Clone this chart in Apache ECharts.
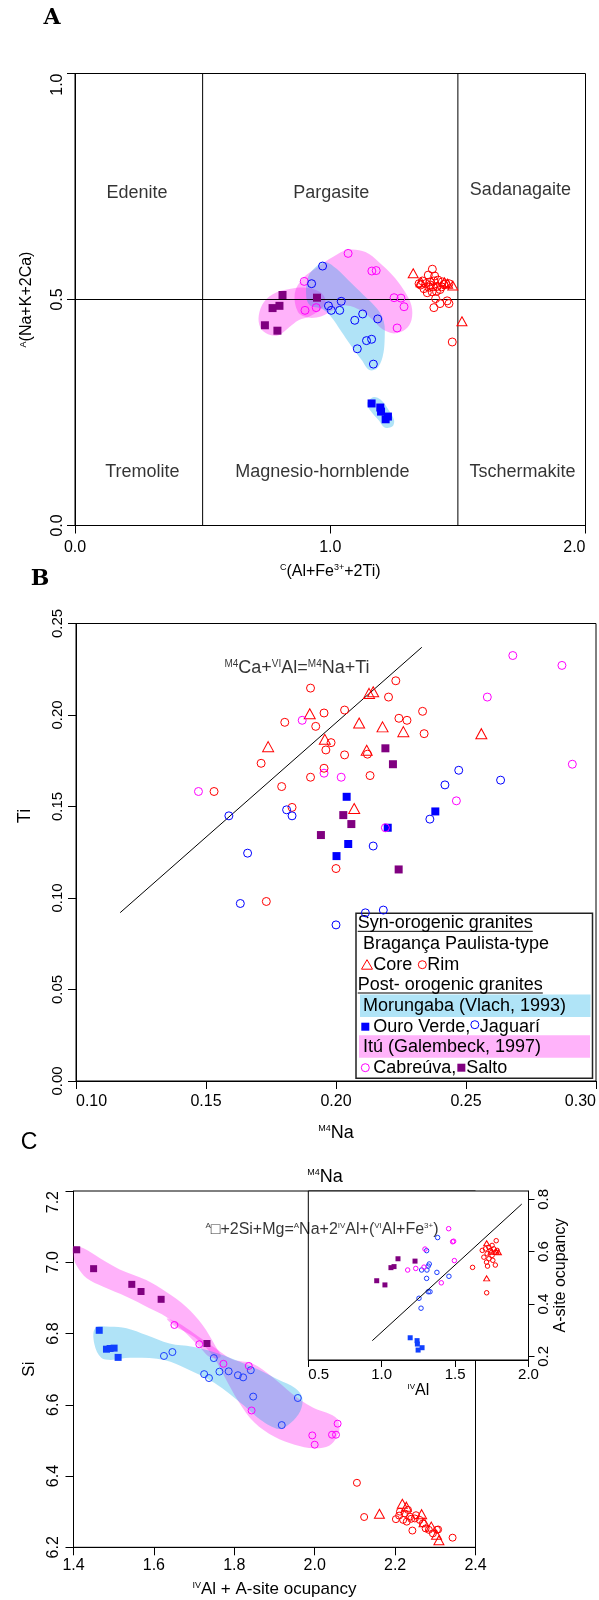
<!DOCTYPE html>
<html><head><meta charset="utf-8">
<script src="https://cdn.jsdelivr.net/npm/echarts@6.0.0/dist/echarts.min.js"></script>
<style>html,body{margin:0;padding:0;background:#fff}#c{width:599px;height:1600px}</style>
</head><body><div id="c"></div>
<script>
// ---------------- DATA ----------------
// Panel A : C(Al+Fe3+ +2Ti) vs A(Na+K+2Ca)
const A_core = [[1.325,0.558],[1.480,0.531],[1.516,0.452],[1.356,0.538],[1.447,0.538],[1.460,0.535]];
const A_rim = [[1.400,0.567],[1.384,0.554],[1.409,0.552],[1.478,0.406],[1.406,0.482],[1.413,0.502],[1.430,0.491],[1.458,0.497],[1.465,0.491],[1.348,0.535],[1.361,0.541],[1.374,0.535],[1.391,0.539],[1.406,0.541],[1.422,0.543],[1.439,0.539],[1.452,0.535],[1.367,0.524],[1.386,0.527],[1.403,0.528],[1.419,0.529],[1.436,0.528],[1.380,0.515],[1.399,0.517],[1.416,0.518],[1.430,0.522],[1.393,0.532],[1.445,0.533],[1.465,0.535],[1.354,0.532]];
const A_jag = [[0.970,0.574],[0.927,0.535],[0.993,0.486],[1.004,0.476],[1.037,0.476],[1.043,0.496],[1.127,0.468],[1.096,0.454],[1.186,0.457],[1.142,0.409],[1.162,0.412],[1.106,0.391],[1.169,0.357]];
const A_ouro = [[1.162,0.270],[1.196,0.261],[1.199,0.252],[1.217,0.235],[1.226,0.241]];
const A_cab = [[1.070,0.602],[1.163,0.563],[1.180,0.564],[0.898,0.540],[0.901,0.476],[0.945,0.482],[1.250,0.504],[1.277,0.503],[1.289,0.484],[1.262,0.437]];
const A_salto = [[0.813,0.510],[0.948,0.504],[0.774,0.481],[0.801,0.486],[0.744,0.443],[0.793,0.431]];
const A_blobCab = [[0.861,0.513],[0.891,0.546],[0.951,0.572],[1.010,0.594],[1.070,0.610],[1.138,0.605],[1.190,0.583],[1.243,0.554],[1.288,0.521],[1.318,0.487],[1.318,0.454],[1.295,0.434],[1.250,0.425],[1.205,0.434],[1.168,0.454],[1.123,0.475],[1.063,0.487],[1.010,0.476],[0.966,0.463],[0.913,0.460],[0.873,0.473]];
const A_blobSalto = [[0.720,0.465],[0.741,0.495],[0.786,0.515],[0.846,0.524],[0.906,0.526],[0.958,0.517],[0.981,0.499],[0.966,0.480],[0.921,0.463],[0.876,0.454],[0.838,0.438],[0.798,0.421],[0.756,0.423],[0.726,0.438]];
const A_blobJag = [[0.906,0.506],[0.913,0.550],[0.951,0.576],[0.981,0.583],[1.025,0.568],[1.070,0.543],[1.130,0.510],[1.183,0.480],[1.210,0.451],[1.213,0.410],[1.205,0.373],[1.183,0.348],[1.153,0.344],[1.123,0.366],[1.085,0.395],[1.040,0.432],[1.003,0.462],[0.966,0.480],[0.921,0.487]];
const A_blobOuro = [[1.145,0.270],[1.168,0.284],[1.198,0.278],[1.228,0.256],[1.250,0.233],[1.243,0.219],[1.213,0.217],[1.190,0.233],[1.160,0.252]];
const A_bounds = [[[0.5,0],[0.5,1]],[[1.5,0],[1.5,1]],[[0,0.5],[2,0.5]]];
const A_regionNames = ['Edenite','Pargasite','Sadanagaite','Tremolite','Magnesio-hornblende','Tschermakite'];
const A_regionPos = [[0.243,0.736],[1.004,0.736],[1.745,0.742],[0.264,0.119],[0.969,0.119],[1.753,0.119]];

// Panel B : M4Na vs Ti
const B_core = [[0.2127,0.2118],[0.2143,0.2127],[0.1899,0.2007],[0.2089,0.1956],[0.2179,0.1935],[0.2259,0.1909],[0.2559,0.1898],[0.1739,0.1827],[0.1957,0.1867],[0.2118,0.1807],[0.2070,0.1489]];
const B_rim = [[0.1902,0.2147],[0.2230,0.2187],[0.2202,0.2098],[0.1954,0.2011],[0.2033,0.2027],[0.1803,0.1960],[0.1922,0.1938],[0.2242,0.1982],[0.2273,0.1971],[0.2333,0.2020],[0.2339,0.1898],[0.1981,0.1849],[0.1961,0.1809],[0.2121,0.1786],[0.2033,0.1782],[0.1712,0.1736],[0.1954,0.1709],[0.1902,0.1660],[0.2131,0.1669],[0.1791,0.1609],[0.1531,0.1582],[0.1831,0.1495],[0.2000,0.1161],[0.1732,0.0981]];
const B_jag = [[0.2472,0.1698],[0.2419,0.1618],[0.2633,0.1644],[0.1588,0.1449],[0.1810,0.1482],[0.1831,0.1449],[0.2361,0.1431],[0.1660,0.1245],[0.2143,0.1284],[0.1632,0.0970],[0.2000,0.0853],[0.2113,0.0919],[0.2182,0.0934]];
const B_ouro = [[0.2041,0.1553],[0.2382,0.1473],[0.2199,0.1384],[0.2047,0.1295],[0.2002,0.1229]];
const B_cab = [[0.2680,0.2325],[0.2869,0.2271],[0.2582,0.2098],[0.1870,0.1971],[0.2909,0.1731],[0.1954,0.1682],[0.2020,0.1660],[0.1471,0.1582],[0.2463,0.1531],[0.2190,0.1384]];
const B_salto = [[0.2190,0.1818],[0.2219,0.1731],[0.2028,0.1453],[0.2059,0.1404],[0.1942,0.1344],[0.2241,0.1156]];
const B_line = [[0.117,0.092],[0.233,0.237]];
const B_eqPos = [0.185,0.2255];

// Panel C : IVAl + A-site vs Si
const C_core = [[2.161,6.294],[2.218,6.322],[2.266,6.293],[2.290,6.258],[2.303,6.235],[2.309,6.220],[2.228,6.314],[2.272,6.270]];
const C_rim = [[2.105,6.381],[2.123,6.285],[2.343,6.227],[2.202,6.279],[2.243,6.247],[2.304,6.249],[2.212,6.300],[2.224,6.295],[2.232,6.305],[2.220,6.277],[2.237,6.286],[2.249,6.281],[2.261,6.277],[2.269,6.267],[2.276,6.253],[2.284,6.249],[2.294,6.239],[2.210,6.289],[2.229,6.272],[2.252,6.290],[2.240,6.280],[2.307,6.250]];
const C_jag = [[1.625,6.737],[1.646,6.748],[1.749,6.731],[1.725,6.686],[1.737,6.675],[1.763,6.693],[1.786,6.694],[1.809,6.683],[1.822,6.677],[1.841,6.697],[1.847,6.623],[1.958,6.619],[1.918,6.543]];
const C_ouro = [[1.464,6.809],[1.482,6.756],[1.491,6.758],[1.501,6.759],[1.511,6.733]];
const C_cab = [[1.651,6.824],[1.713,6.770],[1.773,6.715],[1.836,6.709],[1.843,6.584],[1.994,6.514],[2.000,6.488],[2.043,6.516],[2.053,6.516],[2.057,6.547]];
const C_salto = [[1.408,7.035],[1.450,6.982],[1.545,6.938],[1.568,6.918],[1.618,6.896],[1.732,6.772]];
const C_blobSalto = [[1.400,7.044],[1.425,7.039],[1.466,7.011],[1.515,6.980],[1.581,6.950],[1.630,6.917],[1.680,6.875],[1.721,6.824],[1.754,6.763],[1.766,6.735],[1.741,6.733],[1.713,6.763],[1.676,6.805],[1.630,6.847],[1.589,6.871],[1.532,6.903],[1.474,6.931],[1.433,6.955],[1.409,6.988],[1.399,7.020]];
const C_blobCab = [[1.632,6.842],[1.660,6.830],[1.700,6.800],[1.745,6.765],[1.795,6.728],[1.845,6.716],[1.894,6.679],[1.943,6.632],[1.993,6.594],[2.051,6.566],[2.062,6.540],[2.055,6.510],[2.036,6.485],[1.998,6.478],[1.950,6.488],[1.900,6.510],[1.850,6.550],[1.810,6.610],[1.775,6.680],[1.745,6.740],[1.700,6.790],[1.650,6.822]];
const C_blobJag = [[1.454,6.815],[1.491,6.819],[1.532,6.815],[1.581,6.796],[1.639,6.772],[1.696,6.763],[1.746,6.749],[1.803,6.726],[1.861,6.698],[1.910,6.670],[1.951,6.647],[1.969,6.620],[1.964,6.582],[1.940,6.549],[1.912,6.532],[1.864,6.559],[1.826,6.596],[1.750,6.662],[1.684,6.700],[1.626,6.726],[1.541,6.732],[1.493,6.726],[1.469,6.732],[1.452,6.770]];

// Inset : IVAl vs A-site ocupancy
const I_core = [[1.715,0.632],[1.715,0.498],[1.780,0.600],[1.795,0.598],[1.745,0.600]];
const I_rim = [[1.619,0.540],[1.715,0.443],[1.774,0.549],[1.780,0.642],[1.685,0.605],[1.707,0.611],[1.730,0.617],[1.752,0.624],[1.741,0.605],[1.763,0.611],[1.718,0.592],[1.752,0.586],[1.730,0.573],[1.714,0.560],[1.696,0.579],[1.775,0.598],[1.757,0.567],[1.721,0.545],[1.786,0.605]];
const I_jag = [[1.381,0.654],[1.306,0.604],[1.272,0.530],[1.308,0.530],[1.324,0.553],[1.317,0.545],[1.306,0.498],[1.376,0.521],[1.458,0.506],[1.317,0.447],[1.329,0.447],[1.254,0.422],[1.268,0.384]];
const I_ouro = [[1.194,0.271],[1.241,0.260],[1.243,0.247],[1.275,0.233],[1.248,0.224]];
const I_cab = [[1.177,0.530],[1.232,0.536],[1.288,0.541],[1.295,0.610],[1.456,0.688],[1.483,0.638],[1.490,0.640],[1.495,0.566],[1.406,0.481]];
const I_salto = [[0.966,0.489],[1.022,0.473],[1.063,0.539],[1.084,0.543],[1.111,0.573],[1.227,0.564]];
const I_line = [[0.936,0.260],[1.954,0.782]];
const I_eqPos = [0.593,0.685];
const I_yTicks = [0.2,0.4,0.6,0.8];

// ---------------- STYLE ----------------
const FF = '"Liberation Sans", Arial, sans-serif';
const RED = '#ff0000', BLUE = '#0000ff', MAG = '#ff00ff', PUR = '#800080';
const PINK_F = 'rgba(255,0,240,0.30)', BLUE_F = 'rgba(0,165,229,0.31)';

function rich(n, s) {
  return {
    n: {fontSize: n, fontFamily: FF, color: '#000', textBorderWidth: 0},
    s: {fontSize: s, fontFamily: FF, color: '#000', verticalAlign: 'top', lineHeight: n, textBorderWidth: 0}
  };
}
function sc(grid, data, symbol, size, color, filled) {
  return {type: 'scatter', xAxisIndex: grid, yAxisIndex: grid, data, symbol, symbolSize: size,
    itemStyle: filled ? {color, borderWidth: 0, opacity: 1} : {color: 'rgba(0,0,0,0)', borderColor: color, borderWidth: 1, opacity: 1},
    silent: true, z: 5, animation: false, clip: false};
}
function blob(grid, pts, color, z) {
  return {type: 'custom', xAxisIndex: grid, yAxisIndex: grid, data: pts, z, silent: true, animation: false,
    renderItem(params, api) {
      if (params.dataIndex !== 0) return null;
      return {type: 'polygon', shape: {points: pts.map(p => api.coord(p)), smooth: 0.35}, style: {fill: color}};
    }};
}
function seg(grid, pts, z) {
  return {type: 'line', xAxisIndex: grid, yAxisIndex: grid, data: pts, symbol: 'none', silent: true,
    lineStyle: {color: '#000', width: 1}, z: z || 3, animation: false};
}
const axLine = {show: true, lineStyle: {color: '#000', width: 1}};
const tick = (len) => ({show: true, inside: false, length: len, lineStyle: {color: '#000', width: 1}});
const lab = (fs, margin, extra) => Object.assign({color: '#000', fontFamily: FF, fontSize: fs, margin}, extra || {});

const grids = [
  {left: 75, top: 73.5, width: 510.5, height: 452},
  {left: 76, top: 623.5, width: 520, height: 457.5},
  {left: 73.5, top: 1191, width: 402, height: 356.3},
  {left: 308.3, top: 1191, width: 220.2, height: 169}
].map((g, i) => Object.assign(g, {show: true, borderColor: '#000', borderWidth: 1, backgroundColor: i === 3 ? '#fff' : 'transparent', containLabel: false, outerBoundsMode: 'none', z: i === 3 ? 1 : 0}));

const xAxis = [
  {gridIndex: 0, type: 'value', min: 0, max: 2, interval: 1, axisLine: axLine, axisTick: tick(8), splitLine: {show: false},
   axisLabel: lab(16, 14, {formatter: v => v.toFixed(1), alignMaxLabel: 'right'}),
   name: '{s|C}{n|(Al+Fe}{s|3+}{n|+2Ti)}', nameLocation: 'middle', nameGap: 38, nameTextStyle: {rich: rich(16, 9)}},
  {gridIndex: 1, type: 'value', min: 0.1, max: 0.3, interval: 0.05, axisLine: axLine, axisTick: tick(8), splitLine: {show: false},
   axisLabel: lab(16, 13, {formatter: v => v.toFixed(2), alignMinLabel: 'left', alignMaxLabel: 'right'}),
   name: '{s|M4}{n|Na}', nameLocation: 'middle', nameGap: 43, nameTextStyle: {rich: rich(18, 9)}},
  {gridIndex: 2, type: 'value', min: 1.4, max: 2.4, interval: 0.2, axisLine: axLine, axisTick: tick(8), splitLine: {show: false},
   axisLabel: lab(16, 10, {formatter: v => v.toFixed(1)}),
   name: '{s|IV}{n|Al + A-site ocupancy}', nameLocation: 'middle', nameGap: 34, nameTextStyle: {rich: rich(17, 9)}},
  {gridIndex: 3, type: 'value', min: 0.5, max: 2.0, interval: 0.5, axisLine: axLine, axisTick: tick(7), splitLine: {show: false},
   axisLabel: lab(15, 7, {formatter: v => v.toFixed(1), alignMinLabel: 'left'}),
   name: '{s|IV}{n|Al}', nameLocation: 'middle', nameGap: 23, nameTextStyle: {rich: rich(16, 8)}}
];
const yAxis = [
  {gridIndex: 0, type: 'value', min: 0, max: 1, interval: 0.5, axisLine: axLine, axisTick: tick(8), splitLine: {show: false},
   axisLabel: lab(16, 9, {rotate: 90, formatter: v => v.toFixed(1), alignMaxLabel: 'right'}),
   name: '{s|A}{n|(Na+K+2Ca)}', nameLocation: 'middle', nameRotate: 90, nameGap: 40, nameTextStyle: {rich: rich(16, 9)}},
  {gridIndex: 1, type: 'value', min: 0, max: 0.25, interval: 0.05, axisLine: axLine, axisTick: tick(8), splitLine: {show: false},
   axisLabel: lab(15, 11, {rotate: 90, formatter: v => v.toFixed(2)})},
  {gridIndex: 2, type: 'value', min: 6.2, max: 7.2, interval: 0.2, axisLine: axLine, axisTick: tick(8), splitLine: {show: false},
   axisLabel: lab(16, 12, {rotate: 90, formatter: v => v.toFixed(1), alignMaxLabel: 'right'}),
   name: 'Si', nameLocation: 'middle', nameRotate: 90, nameGap: 36, nameTextStyle: {fontSize: 17, fontFamily: FF, color: '#000'}},
  {gridIndex: 3, type: 'value', position: 'right', min: 0.186, max: 0.832, axisLine: axLine, splitLine: {show: false},
   axisTick: Object.assign(tick(6), {customValues: I_yTicks}),
   axisLabel: lab(15, 8, {rotate: 90, customValues: I_yTicks, formatter: v => v.toFixed(1)}),
   name: 'A-site ocupancy', nameLocation: 'middle', nameRotate: 90, nameGap: 24, nameTextStyle: {fontSize: 16, fontFamily: FF, color: '#000'}}
];

const series = [
  // Panel A
  blob(0, A_blobSalto, PINK_F, 1), blob(0, A_blobCab, PINK_F, 1), blob(0, A_blobJag, BLUE_F, 2), blob(0, A_blobOuro, BLUE_F, 2),
  ...A_bounds.map(b => seg(0, b, 3)),
  {type: 'scatter', xAxisIndex: 0, yAxisIndex: 0, symbolSize: 0, silent: true, z: 4, animation: false,
   data: A_regionNames.map((n, i) => ({name: n, value: A_regionPos[i]})),
   label: {show: true, position: 'inside', formatter: '{b}', fontSize: 18, fontFamily: FF, color: '#000', textBorderWidth: 0}},
  sc(0, A_cab, 'circle', 8, MAG, false), sc(0, A_jag, 'circle', 8, BLUE, false),
  sc(0, A_salto, 'rect', 8, PUR, true), sc(0, A_ouro, 'rect', 8, BLUE, true),
  sc(0, A_rim, 'circle', 8, RED, false), sc(0, A_core, 'triangle', [10, 9], RED, false),
  // Panel B
  seg(1, B_line, 3),
  {type: 'scatter', xAxisIndex: 1, yAxisIndex: 1, symbolSize: 0, silent: true, z: 4, animation: false,
   data: [B_eqPos], label: {show: true, position: 'inside', textBorderWidth: 0,
     formatter: '{s|M4}{n|Ca+}{s|VI}{n|Al=}{s|M4}{n|Na+Ti}', rich: rich(18, 10)}},
  sc(1, B_rim, 'circle', 8, RED, false), sc(1, B_core, 'triangle', [11, 10], RED, false),
  sc(1, B_jag, 'circle', 8, BLUE, false), sc(1, B_ouro, 'rect', 8, BLUE, true),
  sc(1, B_cab, 'circle', 8, MAG, false), sc(1, B_salto, 'rect', 8, PUR, true),
  // Panel C main
  blob(2, C_blobSalto, PINK_F, 1), blob(2, C_blobCab, PINK_F, 1), blob(2, C_blobJag, BLUE_F, 2),
  sc(2, C_salto, 'rect', 7, PUR, true), sc(2, C_ouro, 'rect', 7, '#1040ff', true),
  sc(2, C_jag, 'circle', 7, '#1a3cff', false), sc(2, C_cab, 'circle', 7, MAG, false),
  sc(2, C_rim, 'circle', 7, RED, false), sc(2, C_core, 'triangle', [10, 9], RED, false),
  // Inset
  seg(3, I_line, 6),
  {type: 'scatter', xAxisIndex: 3, yAxisIndex: 3, symbolSize: 0, silent: true, z: 7, animation: false, clip: false,
   data: [I_eqPos], label: {show: true, position: 'inside', textBorderWidth: 0,
     formatter: '{s|A}{n|\u25a1+2Si+Mg=}{s|A}{n|Na+2}{s|IV}{n|Al+(}{s|VI}{n|Al+Fe}{s|3+}{n|)}', rich: rich(16, 8)}},
  sc(3, I_salto, 'rect', 5, PUR, true), sc(3, I_ouro, 'rect', 5, '#1040ff', true),
  sc(3, I_jag, 'circle', 4.5, '#1a3cff', false), sc(3, I_cab, 'circle', 4.5, MAG, false),
  sc(3, I_rim, 'circle', 4.5, RED, false), sc(3, I_core, 'triangle', [6, 5], RED, false)
];

// ---------------- LEGEND (panel B) ----------------
function legend() {
  const ctx = document.createElement('canvas').getContext('2d');
  const LF = '18px "Liberation Sans", Arial, sans-serif';
  ctx.font = LF;
  const w = t => ctx.measureText(t).width;
  const bx = 356, by = 913.3, bw = 236.5, bh = 165;
  const rows = [10, 30.7, 51.4, 71.7, 92.7, 113.4, 133.4, 154.4].map(r => by + r);
  const els = [];
  els.push({type: 'rect', shape: {x: bx, y: by, width: bw, height: bh}, style: {fill: '#fff', stroke: '#222', lineWidth: 1.5}});
  els.push({type: 'rect', shape: {x: 360, y: rows[4] - 11.5, width: 230.5, height: 22.5}, style: {fill: '#b0e4f7'}});
  els.push({type: 'rect', shape: {x: 359, y: rows[6] - 11.5, width: 231, height: 22.5}, style: {fill: '#ffb3fa'}});
  const txt = (t, x, y) => els.push({type: 'text', style: {text: t, x, y, font: LF, fill: '#000', align: 'left', verticalAlign: 'middle'}});
  const circ = (cx, cy, c) => els.push({type: 'circle', shape: {cx, cy, r: 4}, style: {fill: 'none', stroke: c, lineWidth: 1}});
  const sq = (cx, cy, c) => els.push({type: 'rect', shape: {x: cx - 4, y: cy - 4, width: 8, height: 8}, style: {fill: c}});
  const tri = (cx, cy, c) => els.push({type: 'polygon', shape: {points: [[cx, cy - 5], [cx + 5.5, cy + 4.5], [cx - 5.5, cy + 4.5]]}, style: {fill: 'none', stroke: c, lineWidth: 1}});
  const ul = (x, y, len) => els.push({type: 'line', shape: {x1: x, y1: y, x2: x + len, y2: y}, style: {stroke: '#000', lineWidth: 1}});
  txt('Syn-orogenic granites', 357.7, rows[0]); ul(357.7, rows[0] + 8, w('Syn-orogenic granites'));
  txt('Bragança Paulista-type', 362.9, rows[1]);
  tri(367, rows[2], RED); txt('Core', 373.3, rows[2]);
  let x = 373.3 + w('Core') + 6; circ(x + 4, rows[2], RED); txt('Rim', x + 9, rows[2]);
  txt('Post- orogenic granites', 357.7, rows[3]); ul(357.7, rows[3] + 8, w('Post- orogenic granites'));
  txt('Morungaba (Vlach, 1993)', 362.9, rows[4]);
  sq(365.3, rows[5], BLUE); txt('Ouro Verde,', 373.3, rows[5]);
  x = 373.3 + w('Ouro Verde,'); circ(x + 4.5, rows[5] - 2, BLUE); txt('Jaguarí', x + 9.5, rows[5]);
  txt('Itú (Galembeck, 1997)', 362.9, rows[6]);
  circ(365.3, rows[7], MAG); txt('Cabreúva,', 373.3, rows[7]);
  x = 373.3 + w('Cabreúva,'); sq(x + 5, rows[7], PUR); txt('Salto', x + 10, rows[7]);
  return {type: 'group', z: 100, children: els};
}

const graphic = [
  {type: 'text', z: 100, style: {text: 'A', x: 52, y: 18, font: 'bold 22px "DejaVu Serif", serif', fill: '#000', align: 'center', verticalAlign: 'middle'}},
  {type: 'text', z: 100, style: {text: 'B', x: 40, y: 579, font: 'bold 22px "DejaVu Serif", serif', fill: '#000', align: 'center', verticalAlign: 'middle'}},
  {type: 'text', z: 100, style: {text: 'C', x: 29, y: 1143, font: '23px "Liberation Sans Narrow", "Liberation Sans", sans-serif', fill: '#000', align: 'center', verticalAlign: 'middle'}},
  {type: 'text', z: 100, style: {text: '{s|M4}{n|Na}', x: 325, y: 1177, rich: rich(18, 9), align: 'center', verticalAlign: 'middle'}},
  {type: 'text', z: 100, x: 25, y: 816, rotation: Math.PI / 2, style: {text: 'Ti', x: 0, y: 0, font: '18px "Liberation Sans", Arial, sans-serif', fill: '#000', align: 'center', verticalAlign: 'middle'}},
  legend()
];

const chart = echarts.init(document.getElementById('c'), null, {renderer: 'canvas', width: 599, height: 1600});
chart.setOption({animation: false, backgroundColor: '#fff', grid: grids, xAxis, yAxis, series, graphic});
</script></body></html>
